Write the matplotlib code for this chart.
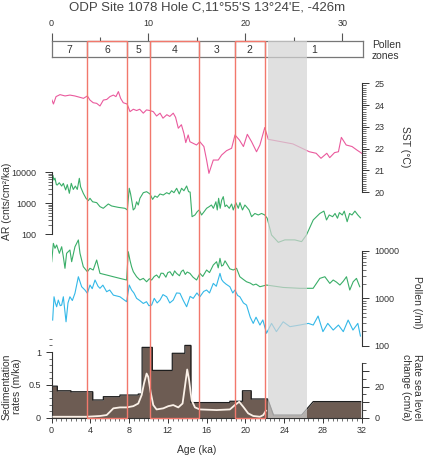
import numpy as np
import matplotlib
matplotlib.use('Agg')
import matplotlib.pyplot as plt
from matplotlib.patches import Rectangle
from matplotlib.ticker import MultipleLocator, FixedLocator, NullFormatter

plt.rcParams['font.family'] = ['Liberation Sans', 'DejaVu Sans']

# ---- data ----
zone_edges = [0, 3.7, 7.8, 10.2, 15.2, 18.9, 22.0, 32.1]
zone_names = ['7', '6', '5', '4', '3', '2', '1']
red_zones = ['6', '4', '2']
gap_band = (22.3, 26.4)

sst_age = [0.05, 0.2, 0.47, 0.88, 1.4, 1.9, 2.4, 2.9, 3.3, 3.7, 3.97, 4.3, 4.66, 5.0,
           5.35, 5.7, 6.03, 6.38, 6.65, 6.9, 7.13, 7.4, 7.8, 8.1, 8.44, 8.78, 9.1,
           9.47, 9.8, 10.15, 10.5, 10.84, 11.2, 11.5, 11.9, 12.2, 12.56, 12.8, 13.08,
           13.4, 13.66, 13.85, 14.1, 14.28, 14.6, 14.96, 15.3, 15.72, 16.0, 16.24,
           16.69, 17.2, 17.55, 18.06, 18.58, 18.93, 19.38, 19.8, 20.2, 20.64, 21.15,
           21.5, 22.0, 22.36, 24.9, 26.6, 27.3, 27.8, 28.4, 28.7, 29.2, 29.6, 29.9,
           30.4, 31.0, 31.5, 32.0]
sst = [24.23, 24.05, 24.39, 24.48, 24.42, 24.46, 24.42, 24.36, 24.31, 24.42, 24.23,
       24.11, 24.08, 23.96, 24.23, 24.26, 24.39, 24.46, 24.39, 24.62, 24.31, 24.11,
       24.05, 23.7, 23.81, 23.75, 23.81, 23.63, 23.78, 23.75, 23.7, 23.5, 23.63, 23.4,
       23.56, 23.48, 23.63, 23.44, 22.94, 23.1, 22.7, 22.28, 22.63, 22.32, 22.25,
       22.17, 22.32, 22.1, 21.48, 20.87, 21.48, 21.48, 21.71, 21.91, 22.02, 22.63,
       22.4, 22.1, 22.66, 22.32, 21.86, 22.17, 22.97, 22.43, 22.22, 21.86, 21.79,
       21.56, 21.79, 21.59, 21.82, 21.86, 22.52, 22.17, 22.1, 21.94, 21.79]

ar_age = [0.05, 0.15, 0.25, 0.36, 0.5, 0.6, 0.8, 1.05, 1.22, 1.46, 1.63, 1.84, 2.04,
          2.25, 2.46, 2.66, 2.87, 3.0, 3.28, 3.56, 3.8, 3.97, 4.24, 4.66, 5.0, 5.34,
          5.86, 6.2, 6.89, 7.58, 7.82, 8.02, 8.16, 8.3, 8.43, 8.6, 8.78, 8.95, 9.12,
          9.47, 9.81, 10.16, 10.43, 10.67, 10.91, 11.19, 11.53, 11.88, 12.15, 12.39,
          12.63, 12.91, 13.18, 13.42, 13.66, 13.94, 14.14, 14.3, 14.5, 14.8, 15.04,
          15.24, 15.48, 15.75, 16.0, 16.27, 16.5, 16.7, 16.96, 17.1, 17.24, 17.4,
          17.55, 17.72, 17.9, 18.06, 18.34, 18.58, 18.75, 19.02, 19.27, 19.44, 19.7,
          19.95, 20.1, 20.38, 20.64, 20.98, 21.33, 21.67, 22.0, 22.25, 22.7, 23.4,
          24.07, 25.1, 25.8, 26.3, 27.0, 27.68, 28.1, 28.37, 28.65, 29.0, 29.25, 29.5,
          29.7, 30.0, 30.2, 30.5, 30.75, 31.0, 31.3, 31.6, 31.87]
ar = [4500, 8000, 5600, 6500, 4000, 3900, 4600, 3600, 4400, 2700, 4000, 2100, 4400,
      2800, 3600, 2800, 6400, 3400, 2100, 1450, 1220, 1450, 1120, 1050, 780, 690, 950,
      820, 740, 690, 610, 3050, 2000, 1120, 610, 690, 1120, 880, 1450, 2200, 2370,
      2000, 1340, 1720, 1560, 2000, 1850, 2200, 2000, 2540, 2200, 3050, 2000, 3050,
      2540, 3620, 2370, 2300, 370, 420, 540, 610, 420, 540, 690, 780, 880, 690, 1120,
      610, 1450, 690, 1250, 1640, 780, 880, 690, 950, 610, 1050, 690, 1050, 610, 880,
      780, 610, 370, 470, 420, 470, 420, 330, 95, 55, 66, 66, 58, 95, 290, 470, 560,
      290, 420, 370, 470, 330, 500, 420, 560, 255, 470, 420, 560, 420, 340]

pg_age = [0.02, 0.19, 0.36, 0.53, 0.81, 1.05, 1.22, 1.39, 1.56, 1.9, 2.08, 2.42, 2.77,
          2.94, 3.28, 3.7, 3.97, 4.3, 4.66, 5.0, 5.69, 6.38, 7.06, 7.75, 7.92, 8.09,
          8.26, 8.44, 8.78, 9.12, 9.47, 9.81, 10.1, 10.33, 10.6, 10.84, 11.1, 11.3,
          11.53, 11.8, 12.0, 12.22, 12.5, 12.7, 12.9, 13.2, 13.4, 13.59, 13.8, 14.0,
          14.28, 14.6, 14.97, 15.31, 15.6, 16.0, 16.3, 16.69, 17.03, 17.2, 17.38,
          17.55, 17.72, 17.9, 18.06, 18.4, 18.75, 19.09, 19.43, 19.8, 20.12, 20.5,
          20.81, 21.1, 21.5, 22.18, 23.9, 25.62, 26.99, 27.68, 28.2, 28.71, 29.06,
          29.4, 29.75, 30.1, 30.43, 30.77, 31.12, 31.46, 31.8]
pollen_green = [5940, 14500, 11400, 13400, 8940, 12300, 7580, 4310, 8940, 10500, 5940,
                12300, 17100, 8940, 4660, 3650, 4310, 3970, 6450, 3370, 3110, 2860,
                2640, 2440, 9660, 6450, 4660, 3650, 2860, 2440, 2640, 2240, 2600, 2440,
                2900, 3110, 2700, 3400, 3370, 2800, 3500, 3650, 3000, 3800, 3370, 3000,
                3700, 3970, 3200, 3600, 3370, 2800, 2440, 3370, 2900, 3970, 3500, 5060,
                5940, 4400, 7000, 4800, 5060, 6200, 5490, 4200, 3970, 4310, 2860, 2500,
                2240, 2100, 1910, 2000, 1760, 1910, 1700, 1630, 1630, 2640, 2860, 2070,
                2440, 2200, 1910, 2300, 2860, 1500, 2240, 2640, 1760]

pb_age = [0.12, 0.26, 0.4, 0.53, 0.7, 0.9, 1.05, 1.22, 1.5, 1.7, 1.9, 2.15, 2.42, 2.77,
          3.11, 3.45, 3.7, 3.97, 4.2, 4.49, 4.8, 5.0, 5.3, 5.69, 6.0, 6.38, 7.06, 7.75,
          8.02, 8.26, 8.5, 8.78, 9.1, 9.47, 9.8, 10.05, 10.33, 10.6, 10.9, 11.19, 11.5,
          11.88, 12.2, 12.56, 12.9, 13.25, 13.6, 13.94, 14.3, 14.62, 15.0, 15.31, 15.7,
          16.0, 16.3, 16.69, 17.0, 17.38, 17.55, 17.72, 18.0, 18.4, 18.7, 18.92, 19.2,
          19.43, 19.8, 20.12, 20.5, 20.81, 21.1, 21.5, 21.8, 22.18, 22.7, 23.2, 23.9,
          24.6, 25.6, 26.5, 27.0, 27.5, 28.0, 28.5, 29.06, 29.6, 30.1, 30.6, 31.1,
          31.6, 31.87]
pollen_blue = [348, 1080, 800, 664, 920, 700, 721, 1080, 320, 800, 1080, 900, 1280,
               2860, 1760, 1500, 1280, 1910, 1600, 2440, 1800, 1630, 1900, 1380, 1500,
               1170, 1080, 850, 1910, 1500, 1300, 1000, 900, 780, 850, 700, 720, 1000,
               800, 920, 1200, 1080, 800, 920, 1300, 1280, 900, 664, 1100, 1000, 1300,
               1080, 1400, 1500, 1300, 2070, 1800, 3370, 2500, 2240, 2000, 1760, 1300,
               1500, 1150, 1080, 800, 721, 400, 296, 400, 273, 350, 183, 296, 198, 320,
               252, 273, 296, 273, 423, 198, 296, 214, 273, 198, 348, 214, 296, 160]

# sedimentation rate: stepwise part, then linear part through the gap
sed_edges = [0, 0.6, 2.0, 4.25, 5.35, 7.06, 8.95, 9.35, 10.4, 12.46, 13.76, 14.38,
             18.4, 19.7, 20.6, 22.3]
sed_rates = [0.48, 0.41, 0.395, 0.27, 0.32, 0.345, 0.36, 1.07, 0.72, 0.98, 1.10,
             0.23, 0.25, 0.41, 0.285]
sed_tail_age = [22.9, 25.8, 27.0, 31.9]
sed_tail_rate = [0.04, 0.04, 0.245, 0.245]

sl_age = [0.19, 3.63, 5.0, 5.69, 6.03, 6.38, 7.06, 7.75, 8.44, 8.95, 9.3, 9.54, 9.81,
          9.98, 10.22, 10.5, 10.84, 11.53, 12.05, 12.56, 13.08, 13.52, 13.76, 14.0,
          14.2, 14.45, 14.8, 15.3, 17.03, 18.4, 18.92, 19.36, 19.78, 20.29, 20.81,
          21.5, 21.85, 22.12]
sl_rate = [0.6, 0.6, 1.1, 1.7, 3.8, 6.0, 6.6, 6.6, 7.4, 9.1, 14.5, 21.9, 28.3, 26.2,
           16.6, 8.1, 5.3, 6.0, 7.4, 8.1, 6.6, 9.1, 19.8, 30.9, 24.0, 11.3, 6.6, 5.3,
           4.9, 5.3, 8.1, 10.2, 7.0, 2.8, 1.1, 0.6, 1.7, 4.5]

# ---- layout (pixel positions of the original figure) ----
W, H = 425, 457
X0, X1 = 51.5, 361.7
TXT = '#333333'
PINK = '#ea5a9d'
GREEN = '#3aae68'
BLUE = '#33b8e8'
BROWN = '#6d5c53'
RED = '#f2786c'


def box(top, bottom, x0=X0, x1=X1):
    return [x0 / W, 1 - bottom / H, (x1 - x0) / W, (bottom - top) / H]


def log_px(v, ref_v, ref_px, dec):
    return ref_px - (np.log10(v) - np.log10(ref_v)) * dec


def clean(ax, keep):
    ax.patch.set_visible(False)
    for s in ax.spines:
        ax.spines[s].set_visible(s in keep)
        ax.spines[s].set_color(TXT)
        ax.spines[s].set_linewidth(0.8)
    ax.set_xlim(0, 32)
    ax.tick_params(axis='x', which='both', bottom=False, labelbottom=False,
                   top=False, labeltop=False)
    ax.tick_params(axis='y', which='both', color=TXT, labelcolor=TXT, width=0.7,
                   labelsize=6.5)


def log_ticks(ax):
    ax.set_yticks([100, 1000, 10000], ['100', '1000', '10000'])
    ax.yaxis.set_minor_locator(FixedLocator([k * 10 ** e for e in (2, 3) for k in range(2, 10)]))
    ax.yaxis.set_minor_formatter(NullFormatter())


fig = plt.figure(figsize=(W / 100, H / 100), dpi=100)

# pollen zone strip with top age axis
zx1 = 362.7
zmax = 32 * (zx1 - X0) / (X1 - X0)
axz = fig.add_axes(box(40.7, 57.3, x1=zx1))
axz.set_xlim(0, zmax)
axz.set_ylim(0, 1)
axz.set_yticks([])
for s in axz.spines.values():
    s.set_color('#777777')
    s.set_linewidth(0.9)
axz.xaxis.tick_top()
axz.set_xticks([0, 10, 20, 30])
axz.xaxis.set_minor_locator(FixedLocator([5, 15, 25]))
axz.tick_params(axis='x', which='major', length=6, width=0.8, pad=3.5, labelsize=6.5,
                color='#555555', labelcolor=TXT)
axz.tick_params(axis='x', which='minor', length=3, width=0.8, color='#555555')
for i, name in enumerate(zone_names):
    a, b = zone_edges[i], zone_edges[i + 1]
    if i > 0:
        axz.axvline(a, color='#777777', lw=0.9)
    axz.text((a + b) / 2, 0.45, name, ha='center', va='center', fontsize=7.5, color=TXT)
fig.text(372 / W, 1 - 50.5 / H, 'Pollen\nzones', ha='left', va='center',
         fontsize=7.5, color=TXT, linespacing=1.05)

# SST
ax = fig.add_axes(box(83.3, 192.3))
clean(ax, ['right'])
ax.set_ylim(20, 25)
ax.yaxis.tick_right()
ax.set_yticks(range(20, 26))
ax.yaxis.set_minor_locator(MultipleLocator(0.1))
ax.tick_params(axis='y', which='major', length=5, pad=4)
ax.tick_params(axis='y', which='minor', length=2.8, width=0.5)
ax.plot(sst_age, sst, color=PINK, lw=0.8)
fig.text(405 / W, 1 - 146.7 / H, 'SST (°C)', rotation=270, ha='center', va='center',
         fontsize=7.5, color=TXT)

# AR
lo, hi = 40, 20000
ax = fig.add_axes(box(log_px(hi, 1e4, 172.3, 31), log_px(lo, 1e4, 172.3, 31)))
clean(ax, ['left'])
ax.set_yscale('log')
ax.set_ylim(lo, hi)
ax.spines['left'].set_bounds(100, 10000)
log_ticks(ax)
ax.tick_params(axis='y', which='major', length=5, pad=6)
ax.tick_params(axis='y', which='minor', length=2.8, width=0.5)
ax.plot(ar_age, ar, color=GREEN, lw=0.8)
fig.text(7 / W, 1 - 201 / H, 'AR (cnts/cm²/ka)', rotation=90, ha='center', va='center',
         fontsize=7.5, color=TXT)

# Pollen
lo, hi = 100, 25000
ax = fig.add_axes(box(log_px(hi, 1e4, 251, 47.35), log_px(lo, 1e4, 251, 47.35)))
clean(ax, ['right'])
ax.set_yscale('log')
ax.set_ylim(lo, hi)
ax.spines['right'].set_bounds(100, 10000)
ax.yaxis.tick_right()
log_ticks(ax)
ax.tick_params(axis='y', which='major', length=5, pad=4)
ax.tick_params(axis='y', which='minor', length=2.8, width=0.5)
ax.plot(pg_age, pollen_green, color=GREEN, lw=0.8)
ax.plot(pb_age, pollen_blue, color=BLUE, lw=0.8)
fig.text(417 / W, 1 - 302 / H, 'Pollen (/ml)', rotation=270, ha='center', va='center',
         fontsize=7.5, color=TXT)

# sedimentation rate + sea level change rate
sed_x = list(np.repeat(sed_edges, 2)[1:-1]) + sed_tail_age
sed_y = list(np.repeat(sed_rates, 2)) + sed_tail_rate
ymax = 1.2
ax = fig.add_axes(box(417.7 - ymax * 65.7, 417.7))
clean(ax, ['left', 'bottom'])
ax.set_ylim(0, ymax)
ax.spines['left'].set_bounds(0, 1)
ax.set_yticks([0, 0.5, 1], ['0', '0.5', '1'])
ax.yaxis.set_minor_locator(MultipleLocator(0.1))
ax.tick_params(axis='y', which='major', length=4.5, pad=3)
ax.tick_params(axis='y', which='minor', length=2.5, width=0.5)
ax.tick_params(axis='x', which='both', bottom=True, labelbottom=True, color=TXT,
               labelcolor=TXT, width=0.7, labelsize=6.5)
ax.tick_params(axis='x', which='major', length=3.5, pad=2.5)
ax.tick_params(axis='x', which='minor', length=2, width=0.5)
ax.set_xticks(range(0, 33, 4))
ax.xaxis.set_minor_locator(MultipleLocator(0.5))
ax.fill_between(sed_x, sed_y, 0, color=BROWN, lw=0)
ax.plot(sed_x, sed_y, color='#1e1e1e', lw=0.9)

ax2 = fig.add_axes(box(417.7 - ymax * 65.7, 417.7))
clean(ax2, ['right'])
ax2.set_ylim(0, ymax * 65.7 / 1.56)
ax2.spines['right'].set_bounds(0, 35)
ax2.yaxis.tick_right()
ax2.set_yticks([0, 10, 20, 30], ['0', '', '20', ''])
ax2.yaxis.set_minor_locator(FixedLocator([5, 15, 25, 35]))
ax2.tick_params(axis='y', which='major', length=5, pad=4)
ax2.tick_params(axis='y', which='minor', length=3, width=0.6)
ax2.plot(sl_age, sl_rate, color='#fbf1e8', lw=1.3)

fig.text(12 / W, 1 - 386.5 / H, 'Sedimentation\nrates (m/ka)', rotation=90, ha='center',
         va='center', fontsize=7.5, color=TXT, linespacing=1.1)
fig.text(411.7 / W, 1 - 387 / H, 'Rate sea level\nchange (cm/a)', rotation=270,
         ha='center', va='center', fontsize=7.5, color=TXT, linespacing=1.1)
fig.text(196.7 / W, 1 - 450 / H, 'Age (ka)', ha='center', va='center', fontsize=7.5,
         color=TXT)

# overlay: hiatus band and red zone frames
axo = fig.add_axes(box(40.7, 417.7))
axo.set_xlim(0, 32)
axo.set_ylim(0, 1)
axo.axis('off')
axo.axvspan(*gap_band, color='#d4d4d4', alpha=0.7, lw=0)
for i, name in enumerate(zone_names):
    if name in red_zones:
        a, b = zone_edges[i], zone_edges[i + 1]
        axo.add_patch(Rectangle((a, 0), b - a, 1, fill=False, ec=RED, lw=1.0,
                                clip_on=False))

fig.text(207.5 / W, 1 - 8 / H, "ODP Site 1078 Hole C,11°55'S 13°24'E, -426m",
         ha='center', va='center', fontsize=9.5, color='#444444')

fig.savefig('out.png', dpi=100)
